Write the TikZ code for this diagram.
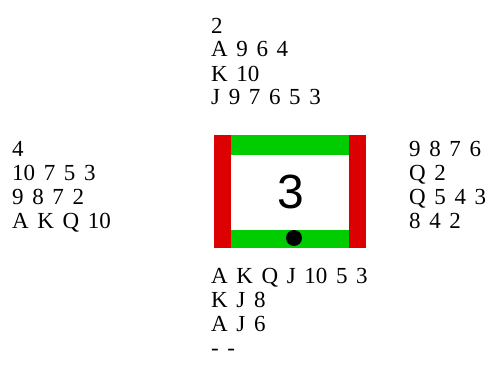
\documentclass[tikz,border=0pt]{standalone}
\usepackage{fontspec}
\setmainfont[WordSpace=1.5]{Liberation Serif}
\newfontfamily\digitfont{Liberation Sans}
\definecolor{barred}{RGB}{221,0,0}
\definecolor{bargreen}{RGB}{0,204,0}

\begin{document}
\begin{tikzpicture}[x=1pt,y=-1pt,
    hand/.style={anchor=base west, align=left, inner sep=0pt,
      font=\fontsize{23}{24}\selectfont}]
  \useasboundingbox (0,0) rectangle (488,369);

  % the four hands (base = last line)
  \node[hand] (north) at (211,105) {2\\A 9 6 4\\K 10\\J 9 7 6 5 3};
  \node[hand] (west) at (12,228) {4\\10 7 5 3\\9 8 7 2\\A K Q 10};
  \node[hand] (east) at (409,228) {9 8 7 6\\Q 2\\Q 5 4 3\\8 4 2};
  \node[hand] (south) at (211,355) {A K Q J 10 5 3\\K J 8\\A J 6\\- -};

  % table with vulnerability bars
  \fill[barred] (214,135) rectangle (231,248);
  \fill[barred] (349,135) rectangle (366,248);
  \fill[bargreen] (231,135) rectangle (349,155);
  \fill[bargreen] (231,230) rectangle (349,248);

  % board number and dealer mark
  \node[font=\digitfont\fontsize{48}{48}\selectfont, inner sep=0pt] (board) at (291,192) {3};
  \fill (294,238) circle (8);
\end{tikzpicture}
\end{document}
